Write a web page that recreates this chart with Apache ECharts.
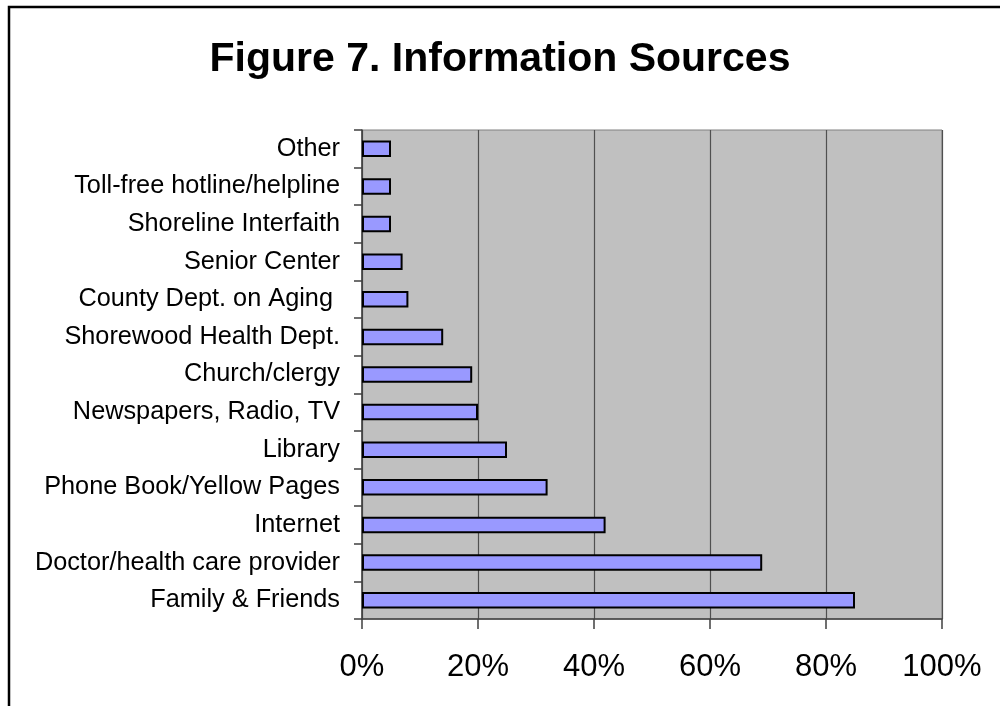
<!DOCTYPE html>
<html>
<head>
<meta charset="utf-8">
<script src="https://cdn.jsdelivr.net/npm/echarts@6/dist/echarts.min.js"></script>
<style>
html,body{margin:0;padding:0;background:#fff;}
#chart{width:1000px;height:706px;}
</style>
</head>
<body>
<div id="chart"></div>
<script>
const titleText = "Figure 7. Information Sources";
const categories = [
  "Family & Friends",
  "Doctor/health care provider",
  "Internet",
  "Phone Book/Yellow Pages",
  "Library",
  "Newspapers, Radio, TV",
  "Church/clergy",
  "Shorewood Health Dept.",
  "County Dept. on Aging ",
  "Senior Center",
  "Shoreline Interfaith",
  "Toll-free hotline/helpline",
  "Other"
];
const values = [85, 69, 42, 32, 25, 20, 19, 14, 8, 7, 5, 5, 5];
const xTicks = [0, 20, 40, 60, 80, 100];

const chart = echarts.init(document.getElementById('chart'));
chart.setOption({
  animation: false,
  backgroundColor: '#ffffff',
  title: {
    text: titleText,
    left: 'center',
    top: 34,
    textStyle: {fontFamily: 'Liberation Sans, Arial, sans-serif', fontWeight: 'bold', fontSize: 41, color: '#000'}
  },
  graphic: [{
    type: 'rect',
    shape: {x: 9, y: 7, width: 1100, height: 800},
    style: {fill: 'none', stroke: '#000', lineWidth: 2.5},
    silent: true
  }],
  grid: {
    left: 362, right: 58, top: 130, bottom: 87,
    show: true, backgroundColor: '#c0c0c0', borderColor: '#808080', borderWidth: 1
  },
  xAxis: {
    type: 'value', min: xTicks[0], max: xTicks[xTicks.length - 1], interval: 20,
    axisLine: {show: true, lineStyle: {color: '#404040', width: 1.5}},
    axisTick: {show: true, length: 10, lineStyle: {color: '#404040', width: 1.5}},
    axisLabel: {formatter: '{value}%', fontFamily: 'Liberation Sans, Arial, sans-serif', fontSize: 31, color: '#000', margin: 33},
    splitLine: {show: true, lineStyle: {color: '#505050', width: 1.2}}
  },
  yAxis: {
    type: 'category', data: categories,
    axisLine: {show: true, lineStyle: {color: '#404040', width: 1.5}},
    axisTick: {show: true, length: 8, alignWithLabel: false, lineStyle: {color: '#404040', width: 1.5}},
    axisLabel: {fontFamily: 'Liberation Sans, Arial, sans-serif', fontSize: 25.3, color: '#000', margin: 22},
    splitLine: {show: false}
  },
  series: [{
    type: 'bar', data: values, barWidth: 16.5,
    itemStyle: {color: '#9999ff', borderColor: '#000', borderWidth: 2}
  }]
});
</script>
</body>
</html>
